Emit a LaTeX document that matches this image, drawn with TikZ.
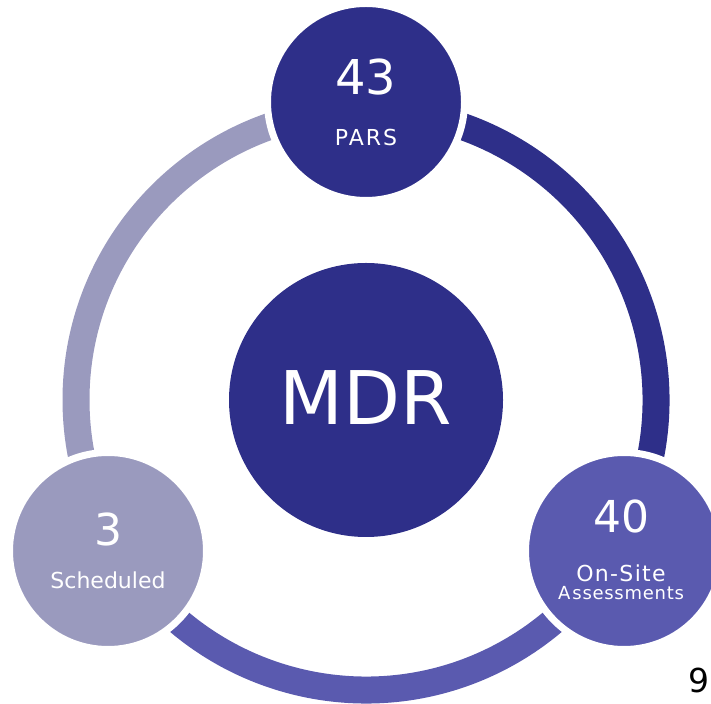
\documentclass[tikz,border=0pt]{standalone}
\usepackage{fontspec}
\setmainfont{DejaVu Sans}
\newfontfamily\spacedA[LetterSpace=9]{DejaVu Sans}
\newfontfamily\spacedB[LetterSpace=6]{DejaVu Sans}
\newfontfamily\spacedC[LetterSpace=4]{DejaVu Sans}
\definecolor{darkP}{RGB}{46,47,137}
\definecolor{lightP}{RGB}{154,154,190}
\definecolor{medP}{RGB}{90,90,175}
\newcommand{\fs}[1]{\fontsize{#1}{#1}\selectfont}
\tikzset{
  ring/.style={line width=27pt},
  bubble/.style={circle, minimum size=197pt, inner sep=0pt, draw=white, line width=7pt},
  txt/.style={text=white, inner sep=0pt, anchor=center}
}
\begin{document}
\begin{tikzpicture}[x=1pt,y=1pt]
\useasboundingbox (0,0) rectangle (711,703);
\coordinate (c) at (366,303);
% ring segments
\draw[ring, lightP] (c) ++(90:290) arc[start angle=90, end angle=210, radius=290];
\draw[ring, darkP] (c) ++(-30:290) arc[start angle=-30, end angle=90, radius=290];
\draw[ring, medP] (c) ++(210:290) arc[start angle=210, end angle=330, radius=290];
% circles
\node[bubble, fill=darkP] (top) at (366,601) {};
\node[bubble, fill=lightP] (bl) at (108,152) {};
\node[bubble, fill=medP] (br) at (624,152) {};
\node[circle, fill=darkP, minimum size=274pt, inner sep=0pt] (mdr) at (c) {};
% texts
\node[txt] (mdrt) at ([yshift=2pt]mdr.center) {\fs{74}MDR};
\node[txt] (t43) at ([yshift=25pt]top.center) {\fs{48}43};
\node[txt] (tpars) at ([yshift=-36pt]top.center) {\spacedA\fs{22}PARS};
\node[txt] (t3) at ([yshift=22pt]bl.center) {\fs{44}3};
\node[txt] (tsch) at ([yshift=-29pt]bl.center) {\fs{22}Scheduled};
\node[txt] (t40) at ([xshift=-3pt,yshift=35pt]br.center) {\fs{44}40};
\node[txt] (tons) at ([xshift=-3pt,yshift=-22pt]br.center) {\spacedB\fs{22}On-Site};
\node[txt] (tass) at ([xshift=-3pt,yshift=-42pt]br.center) {\spacedC\fs{18}A\kern2pt ssessments};
\node[inner sep=0pt, text=black] (pg) at (699,23) {\fs{33}9};
\end{tikzpicture}
\end{document}
